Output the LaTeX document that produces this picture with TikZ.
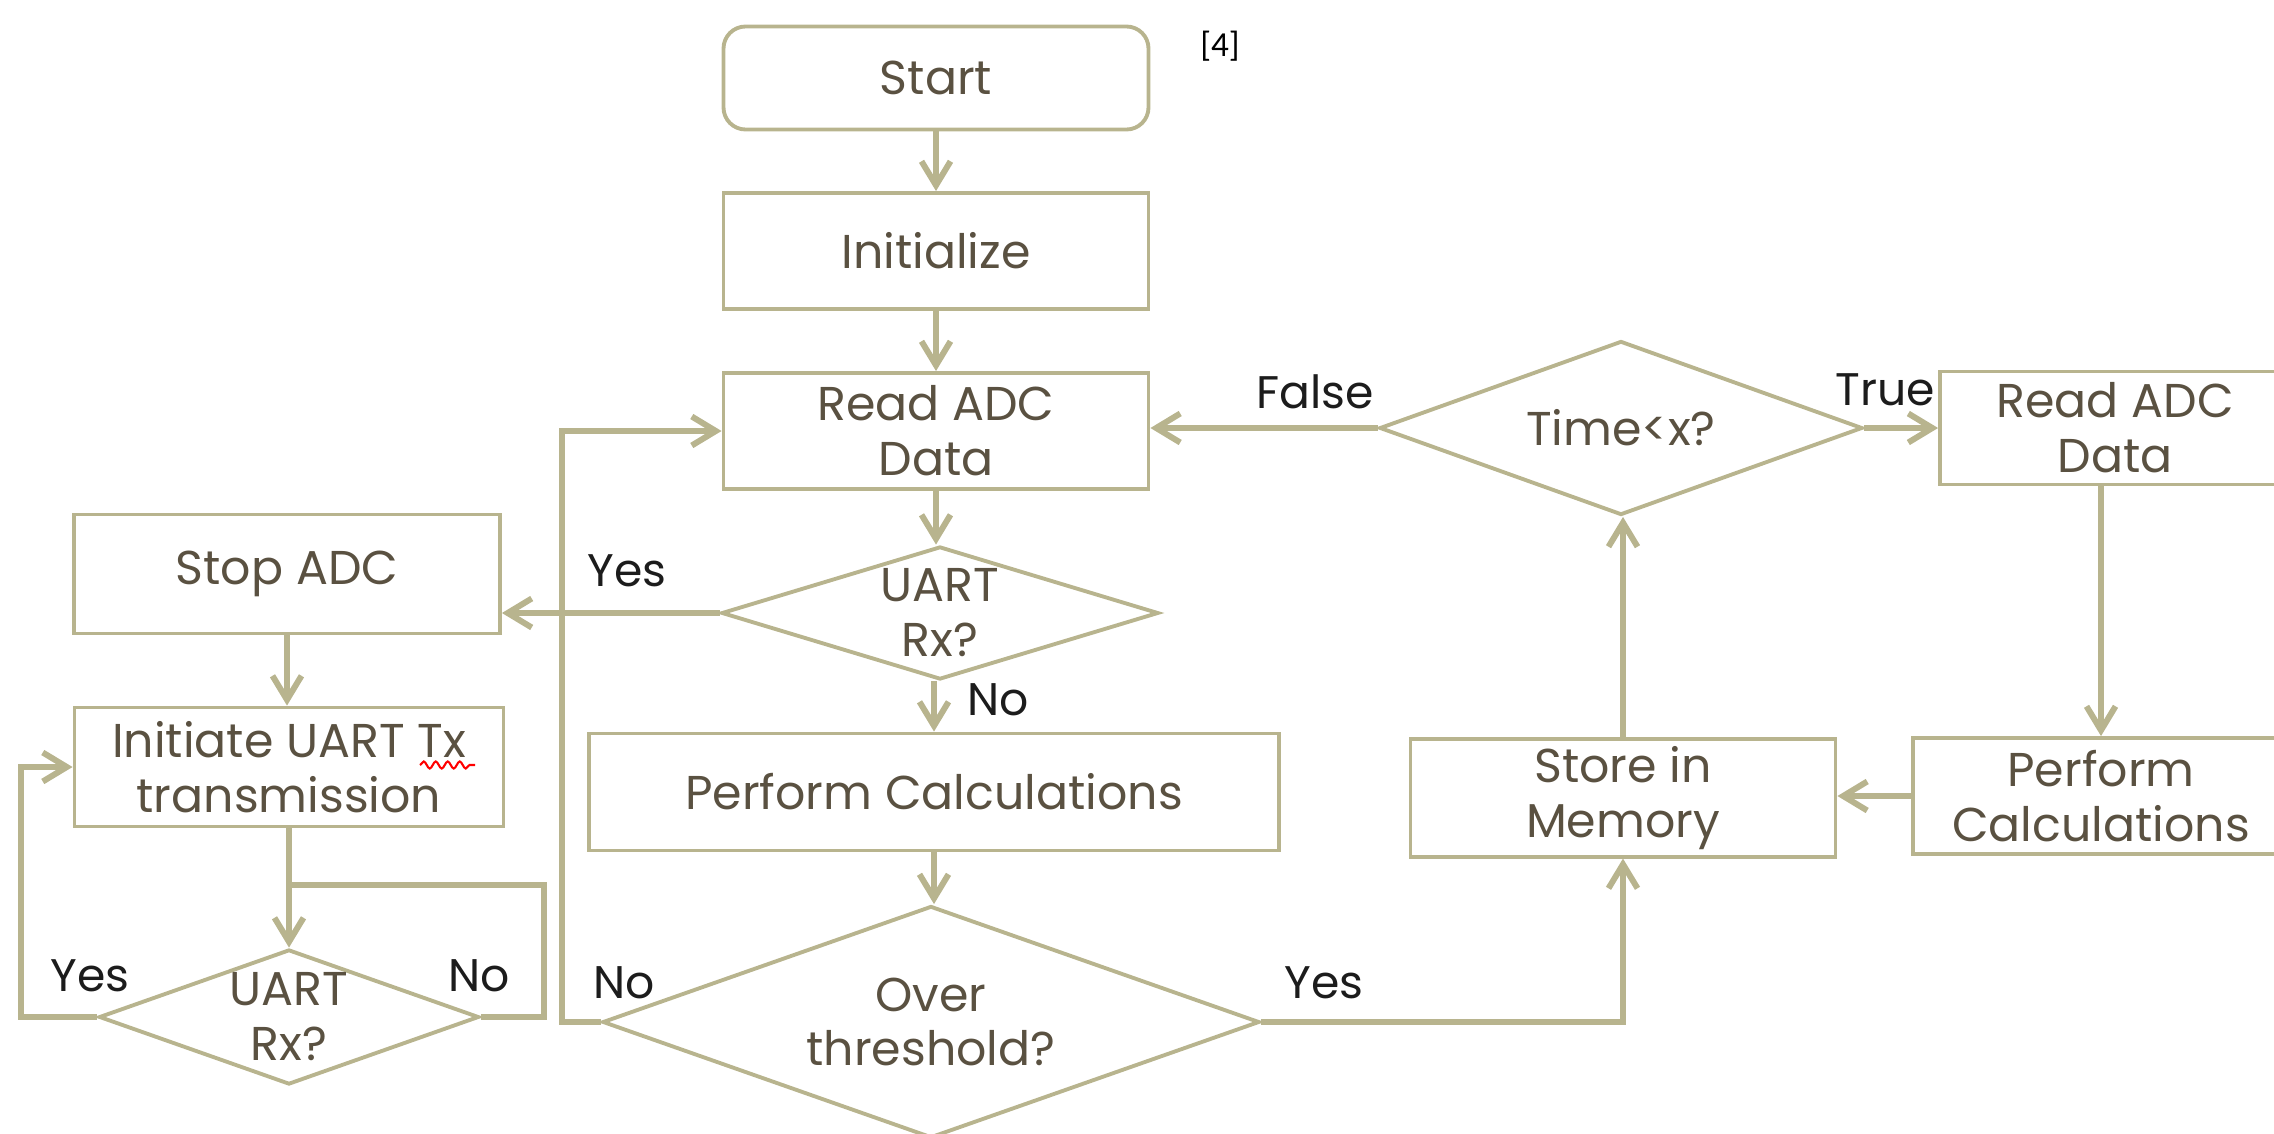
\documentclass[tikz,border=0pt]{standalone}
\usepackage{fontspec}
\setmainfont{Poppins}
\newfontfamily\citefont{Carlito}
\usetikzlibrary{arrows.meta, positioning, calc, shapes.geometric, decorations.pathmorphing}
\definecolor{flowline}{HTML}{B8B48E}
\definecolor{flowtext}{HTML}{5A5141}
\definecolor{labeltext}{HTML}{1C1C1C}

\begin{document}
\begin{tikzpicture}[
  box/.style={draw=flowline, line width=1.1pt, text=flowtext, align=center,
    font=\fontsize{13.5}{15.6}\selectfont, minimum width=4.25cm, minimum height=1.16cm, inner sep=2pt},
  decision/.style={box, diamond, inner sep=-2pt},
  lbl/.style={text=labeltext, font=\fontsize{13}{15}\selectfont},
  conn/.style={draw=flowline, line width=1.7pt},
  arr/.style={conn, -{Straight Barb[length=2.4mm, width=2.9mm]}},
]
  \useasboundingbox (0,0) rectangle (22.74,11.33);
  % main column
  \node[box, rounded corners=0.22cm, minimum height=1.03cm] (start) at (9.36,10.55) {Start};
  \node[box] (init) at (9.36,8.82) {Initialize};
  \node[box] (read) at (9.36,7.02) {Read ADC\\Data};
  \node[decision, aspect=3.29, minimum width=4.37cm, minimum height=1.33cm] (rx) at (9.40,5.20) {UART\\Rx?};
  \node[box, minimum width=6.90cm, minimum height=1.17cm] (calc) at (9.34,3.41) {Perform Calculations};
  \node[decision, aspect=2.83, minimum width=6.57cm, minimum height=2.32cm] (over) at (9.31,1.11) {Over\\threshold?};
  % left column
  \node[box, minimum width=4.26cm, minimum height=1.19cm] (stop) at (2.87,5.59) {Stop ADC};
  \node[box, minimum width=4.29cm, minimum height=1.19cm] (tx) at (2.89,3.66) {Initiate UART Tx\\transmission};
  \node[decision, aspect=2.81, minimum width=3.80cm, minimum height=1.35cm] (rxb) at (2.89,1.16) {UART\\Rx?};
  % right loop
  \node[decision, aspect=2.78, minimum width=4.83cm, minimum height=1.74cm] (time) at (16.21,7.05) {Time<x?};
  \node[box, minimum width=3.50cm, minimum height=1.13cm] (readb) at (21.15,7.05) {Read ADC\\Data};
  \node[box, minimum width=3.76cm] (calcb) at (21.01,3.37) {Perform\\Calculations};
  \node[box] (store) at (16.23,3.35) {Store in\\Memory};
  % labels
  \node[lbl] (yesrx) at (6.27,5.62) {Yes};
  \node[lbl] (norx) at (9.98,4.33) {No};
  \node[lbl] (noover) at (6.24,1.50) {No};
  \node[lbl] (yesover) at (13.24,1.50) {Yes};
  \node[lbl] (false) at (13.15,7.41) {False};
  \node[lbl] (true) at (18.85,7.43) {True};
  \node[lbl] (yesrxb) at (0.90,1.57) {Yes};
  \node[lbl] (norxb) at (4.79,1.57) {No};
  \node[text=black, font=\citefont\fontsize{10}{12}\selectfont] (cite) at (12.20,10.87) {[4]};
  % spell mark
  \draw[red, line width=0.6pt, decorate, decoration={snake, amplitude=0.35mm, segment length=1.2mm}]
    ($(tx.center)+(1.31,0.02)$) -- ++(0.55,0);
  % main flow
  \draw[arr] (start) -- (init);
  \draw[arr] (init) -- (read);
  \draw[arr] (read.south) -- (read.south |- rx.north);
  \draw[arr] (rx.west) -- (rx.west -| stop.east);
  \draw[arr] (calc.north |- rx.south) -- (calc.north);
  \draw[arr] (calc.south) -- (calc.south |- over.north);
  \draw[arr] (over.west) -- ++(-0.39,0) |- (read.west);
  \draw[arr] (over.east) -| (store.south);
  % right loop
  \draw[arr] (store.north) -- (store.north |- time.south);
  \draw[arr] (time.west) -- (time.west -| read.east);
  \draw[arr] (time.east) -- (time.east -| readb.west);
  \draw[arr] (calcb.north |- readb.south) -- (calcb.north);
  \draw[arr] (calcb.west) -- (calcb.west -| store.east);
  % left column
  \coordinate (joinb) at ($(tx.south)+(0,-0.57)$);
  \draw[arr] (stop.south) -- (stop.south |- tx.north);
  \draw[arr] (tx.south) -- (rxb.north);
  \draw[conn] (rxb.east) -- ++(0.63,0) |- (joinb);
  \draw[arr] (rxb.west) -- ++(-0.76,0) |- (tx.west);
\end{tikzpicture}
\end{document}
